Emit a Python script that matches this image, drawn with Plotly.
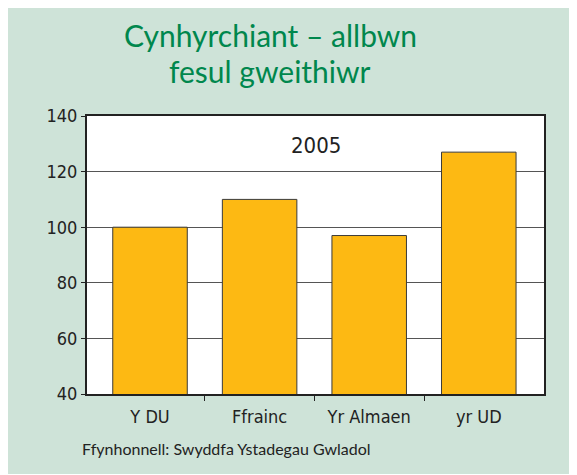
import plotly.graph_objects as go

categories = ["Y DU", "Ffrainc", "Yr Almaen", "yr UD"]
values = [100, 110, 97, 127]
y_ticks = [40, 60, 80, 100, 120, 140]
title_lines = ["Cynhyrchiant – allbwn", "fesul gweithiwr"]
year_label = "2005"
source_text = "Ffynhonnell: Swyddfa Ystadegau Gwladol"

GREEN_BG = "#CEE3D8"
TITLE_GREEN = "#00874D"
BAR = "#FDB913"
DARK = "#222222"
COND = "Liberation Sans Narrow, DejaVu Sans Condensed, sans-serif"
HUMAN = "Lato, Open Sans, sans-serif"

xpos = list(range(len(categories)))
boundaries = [i + 0.5 for i in xpos[:-1]]

fig = go.Figure()
fig.add_trace(go.Bar(
    x=xpos, y=values, width=0.68,
    marker=dict(color=BAR, line=dict(color="#3a3a3a", width=1)),
    hoverinfo="skip", showlegend=False,
))

PH = 277.6
fig.update_layout(
    width=577, height=466,
    margin=dict(l=79, r=41, t=108, b=80),
    paper_bgcolor=GREEN_BG,
    plot_bgcolor="white",
    xaxis=dict(
        range=[-0.575, 3.595], tickmode="array", tickvals=xpos, ticktext=categories,
        ticks="", showgrid=False, zeroline=False,
        showline=True, linecolor=DARK, linewidth=2, mirror=True,
        tickfont=dict(family=COND, size=18, color=DARK),
        ticklabelstandoff=5,
        minor=dict(tickmode="array", tickvals=boundaries, ticks="outside",
                   ticklen=5, tickcolor=DARK, tickwidth=1, showgrid=False),
        fixedrange=True,
    ),
    yaxis=dict(
        range=[40, 140], tickmode="array", tickvals=y_ticks,
        ticks="outside", ticklen=4, tickcolor=DARK, tickwidth=1,
        showgrid=True, gridcolor="#555555", gridwidth=1, zeroline=False,
        showline=True, linecolor=DARK, linewidth=2, mirror=True,
        tickfont=dict(family=COND, size=18, color=DARK),
        fixedrange=True,
    ),
    annotations=[
        dict(text=title_lines[0], xref="paper", yref="paper", x=0.4008, y=(385.3 - 27) / PH,
             xanchor="center", yanchor="middle", showarrow=False,
             font=dict(family=HUMAN, size=30, color=TITLE_GREEN)),
        dict(text=title_lines[1], xref="paper", yref="paper", x=0.4008, y=(385.3 - 63) / PH,
             xanchor="center", yanchor="middle", showarrow=False,
             font=dict(family=HUMAN, size=30, color=TITLE_GREEN)),
        dict(text=year_label, xref="paper", yref="paper", x=0.5, y=0.894,
             xanchor="center", yanchor="middle", showarrow=False,
             font=dict(family=COND, size=22, color=DARK)),
        dict(text=source_text, xref="paper", yref="paper", x=-0.0147, y=-0.197,
             xanchor="left", yanchor="middle", showarrow=False,
             font=dict(family=HUMAN, size=16, color=DARK)),
    ],
)

fig.write_html("out.html")
